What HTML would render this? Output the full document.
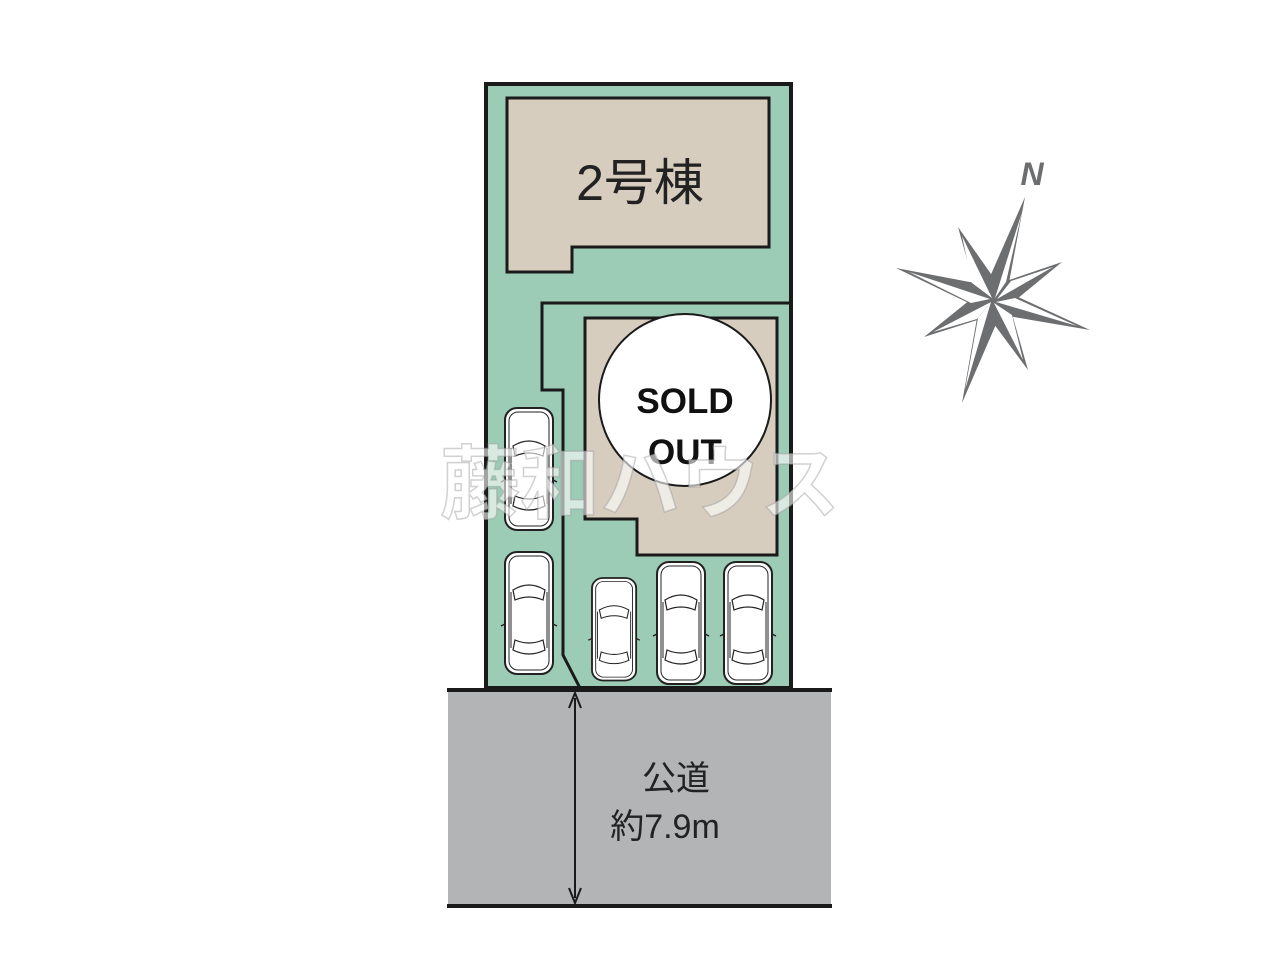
<!DOCTYPE html>
<html><head><meta charset="utf-8"><style>html,body{margin:0;padding:0;background:#fff}</style></head>
<body>
<svg width="1280" height="960" viewBox="0 0 1280 960" xmlns="http://www.w3.org/2000/svg">
<defs>
<g id="car">
<rect x="0" y="0" width="48" height="122" rx="12" fill="#fff" stroke="#222" stroke-width="2"/>
<rect x="4" y="4" width="40" height="114" rx="9" fill="none" stroke="#222" stroke-width="1"/>
<path d="M8 38 Q24 28 40 38 L38 48 Q24 42 10 48 Z" fill="none" stroke="#222" stroke-width="1.2"/>
<path d="M10 88 Q24 94 38 88 L40 98 Q24 106 8 98 Z" fill="none" stroke="#222" stroke-width="1.2"/>
<line x1="6" y1="40" x2="6" y2="96" stroke="#222" stroke-width="1"/>
<line x1="42" y1="40" x2="42" y2="96" stroke="#222" stroke-width="1"/>
<path d="M0 72 L-4 74 M48 72 L52 74" stroke="#222" stroke-width="1.5"/>
</g>
</defs>
<rect x="486" y="84" width="305" height="604" fill="#9ccbb6" stroke="#1a1a1a" stroke-width="4"/>
<path d="M507 98 H769 V247 H572 V272 H507 Z" fill="#d6cdbf" stroke="#1a1a1a" stroke-width="3"/>
<text x="640" y="200" font-family="Liberation Sans, Noto Sans CJK JP, sans-serif" font-size="50" text-anchor="middle" fill="#222">2号棟</text>
<path d="M791 303 H542 V390 H563 V655 L581 690" fill="none" stroke="#1a1a1a" stroke-width="3"/>
<path d="M585 318 H777 V555 H637 V519 H585 Z" fill="#d6cdbf" stroke="#1a1a1a" stroke-width="3"/>
<circle cx="685" cy="400" r="86" fill="#fff" stroke="#1a1a1a" stroke-width="2"/>
<text x="685" y="413" font-family="Liberation Sans, sans-serif" font-size="35" text-anchor="middle" fill="#111" font-weight="bold">SOLD</text>
<text x="685" y="464" font-family="Liberation Sans, sans-serif" font-size="35" text-anchor="middle" fill="#111" font-weight="bold">OUT</text>
<use href="#car" transform="translate(505,408)"/>
<use href="#car" transform="translate(505,552)"/>
<use href="#car" transform="translate(592,578) scale(0.92,0.84)"/>
<use href="#car" transform="translate(657,562)"/>
<use href="#car" transform="translate(724,562)"/>
<rect x="448" y="690" width="383" height="216" fill="#b3b4b6"/>
<line x1="447" y1="690" x2="832" y2="690" stroke="#1a1a1a" stroke-width="4"/>
<line x1="447" y1="906" x2="832" y2="906" stroke="#1a1a1a" stroke-width="4"/>
<line x1="575" y1="698" x2="575" y2="898" stroke="#1a1a1a" stroke-width="2"/>
<path d="M569 708 L575 693 L581 708" fill="none" stroke="#1a1a1a" stroke-width="2"/>
<path d="M569 888 L575 903 L581 888" fill="none" stroke="#1a1a1a" stroke-width="2"/>
<text x="676" y="790" font-family="Liberation Sans, Noto Sans CJK JP, sans-serif" font-size="34" text-anchor="middle" fill="#222">公道</text>
<text x="665" y="838" font-family="Liberation Sans, Noto Sans CJK JP, sans-serif" font-size="34" text-anchor="middle" fill="#222">約7.9m</text>
<text x="640" y="512" font-family="Noto Sans CJK JP, sans-serif" font-size="80" font-weight="bold" text-anchor="middle" fill="#ffffff" fill-opacity="0.6" stroke="#999" stroke-opacity="0.45" stroke-width="1.5">藤和ハウス</text>
<!-- compass -->
<polygon fill="#6d6e70" points="1025,197 1009.5,279.9 1062,262 1018.9,297.4 1090,330 1012.8,316.8 1028,370 995.3,325.9 962,403 976.6,320.2 924,337 967.1,302.3 896,268 973.5,282.8 958,227 991.1,274.1"/>
<g fill="#fff">
<polygon points="1022,212 995,298 1006,282"/>
<polygon points="1077,326 996,302 1015,298"/>
<polygon points="965,390 991,302 978,318"/>
<polygon points="909,272 990,299 971,303"/>
<polygon points="1053,267 997,299 1011,281"/>
<polygon points="1023,360 994,303 1012,315"/>
<polygon points="933,332 991,302 977,319"/>
<polygon points="962,236 992,298 972,283"/>
</g>
<text x="1032" y="185" font-family="Liberation Sans, sans-serif" font-size="32" font-style="italic" font-weight="bold" text-anchor="middle" fill="#6d6e70">N</text>
</svg>
</body></html>
